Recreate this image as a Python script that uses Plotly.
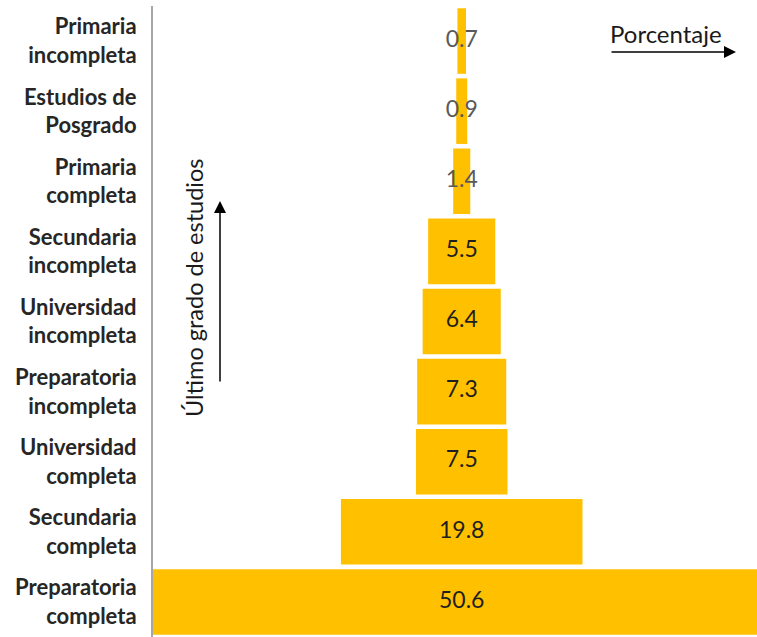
import plotly.graph_objects as go

categories = [
    "Preparatoria<br>completa",
    "Secundaria<br>completa",
    "Universidad<br>completa",
    "Preparatoria<br>incompleta",
    "Universidad<br>incompleta",
    "Secundaria<br>incompleta",
    "Primaria<br>completa",
    "Estudios de<br>Posgrado",
    "Primaria<br>incompleta",
]
values = [50.6, 19.8, 7.5, 7.3, 6.4, 5.5, 1.4, 0.9, 0.7]
label_colors = ["#1f1f1f"] * 6 + ["#595959"] * 3

BAR_COLOR = "#FFC000"
W, H = 757, 637
ML, MR, MT, MB = 153, 0, 6, 0
PW, PH = W - ML - MR, H - MT - MB


def px_x(p):
    return (p - ML) / PW


def px_y(p):
    return (H - MB - p) / PH


fig = go.Figure()
fig.add_trace(go.Bar(
    y=categories,
    x=values,
    base=[-v / 2 for v in values],
    orientation="h",
    marker=dict(color=BAR_COLOR, line=dict(width=0)),
    hoverinfo="skip",
))
fig.add_trace(go.Scatter(
    y=categories,
    x=[0] * len(values),
    mode="text",
    text=[f"{v:.1f}" for v in values],
    textposition="middle center",
    textfont=dict(family="Lato", size=23, color=label_colors),
    hoverinfo="skip",
))

annotations = [
    dict(text="Porcentaje", xref="paper", yref="paper",
         x=px_x(666), y=px_y(34), xanchor="center", yanchor="middle",
         showarrow=False,
         font=dict(family="Lato", size=24, color="#1a1a1a")),
    dict(text="", xref="paper", yref="paper",
         x=px_x(736), y=px_y(52), ax=-126, ay=0,
         showarrow=True, arrowhead=2, arrowsize=1.6, arrowwidth=1.5,
         arrowcolor="#000000"),
    dict(text="Último grado de estudios", xref="paper", yref="paper",
         x=px_x(194), y=px_y(288), xanchor="center", yanchor="middle",
         showarrow=False, textangle=-90,
         font=dict(family="Lato", size=23.5, color="#1a1a1a")),
    dict(text="", xref="paper", yref="paper",
         x=px_x(220), y=px_y(201), ax=0, ay=182,
         showarrow=True, arrowhead=2, arrowsize=1.6, arrowwidth=1.5,
         arrowcolor="#000000"),
]

fig.update_layout(
    width=W, height=H,
    margin=dict(l=ML, r=MR, t=MT, b=MB),
    paper_bgcolor="white", plot_bgcolor="white",
    showlegend=False,
    bargap=0.065,
    annotations=annotations,
    xaxis=dict(range=[-25.3, 24.2], visible=False, fixedrange=True),
    yaxis=dict(
        range=[-0.5, 8.5],
        showline=True, linecolor="#A6A6A6", linewidth=2,
        showgrid=False, zeroline=False, ticks="",
        ticklabelstandoff=10,
        tickfont=dict(family="Lato", size=22, color="#262626", weight="bold"),
        fixedrange=True,
    ),
)

fig.write_html(
    "out.html",
    config={"displayModeBar": False},
    post_script="document.body.style.margin='0';document.body.style.overflow='hidden';",
)
